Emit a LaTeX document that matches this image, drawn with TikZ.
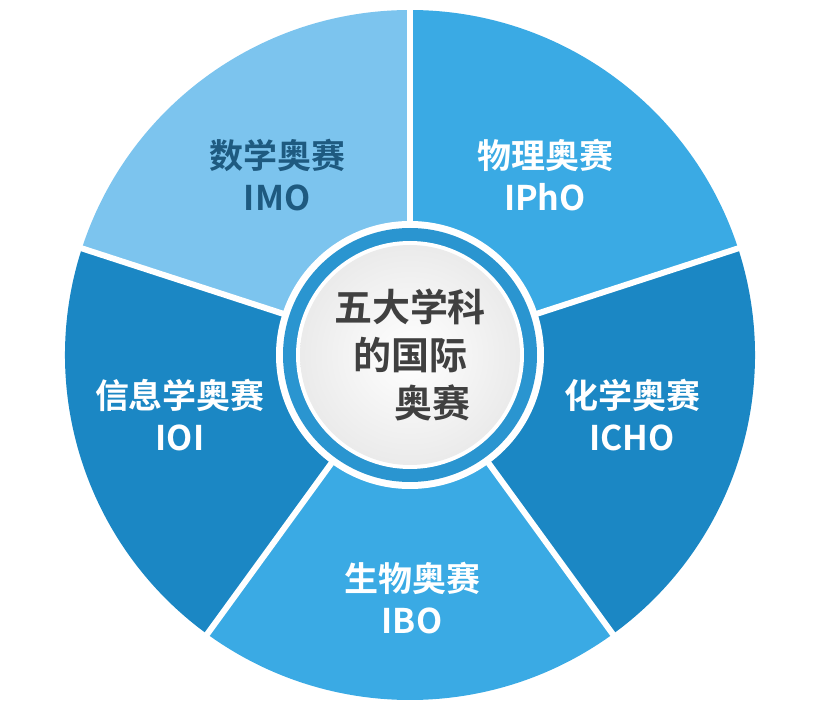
\documentclass[tikz,border=0pt]{standalone}
\usepackage{fontspec}
\newfontfamily\cjk{Noto Sans CJK SC}[BoldFont={* Bold}]
\usetikzlibrary{positioning}
\definecolor{pale}{HTML}{7CC4EE}
\definecolor{mid}{HTML}{3AAAE4}
\definecolor{deep}{HTML}{1B87C4}
\definecolor{ring}{HTML}{2A95D0}
\definecolor{ink}{HTML}{1E5A80}
\tikzset{sector/.style={draw=white,line width=3pt,line join=round},
    sectorlabel/.style={font=\cjk\bfseries\fontsize{17}{21}\selectfont,align=center,text=white},
    hublabel/.style={font=\cjk\bfseries\fontsize{19}{24}\selectfont,align=center,text=black!75}
}
\begin{document}
\begin{tikzpicture}[x=0.5pt,y=0.5pt]
\useasboundingbox (0,0) rectangle (821,703);
\coordinate (hub) at (410,348);

% five sectors
\foreach \a/\col in {90/pale,18/mid,-54/deep,-126/mid,-198/deep}
    \fill [\col] (hub) -- ++(\a:345) arc (\a:\a+72:345) -- cycle;
\foreach \a in {90,18,-54,-126,-198}
    \draw [sector] (hub) -- ++(\a:350);

% hub rings
\fill [white] (hub) circle (134);
\fill [ring] (hub) circle (127);
\fill [white] (hub) circle (114);
\shade [inner color=white,outer color=black!8] (hub) circle (110);

\node (imo) [sectorlabel,text=ink] at (277,528) {数学奥赛\\IMO};
\node (ipho) [sectorlabel] at (545,528) {物理奥赛\\IPhO};
\node (icho) [sectorlabel] at (632,288) {化学奥赛\\ICHO};
\node (ibo) [sectorlabel] at (412,105) {生物奥赛\\IBO};
\node (ioi) [sectorlabel] at (180,288) {信息学奥赛\\IOI};
\node (hubtext) [hublabel] at (hub) {五大学科\\的国际\\\hspace{1.2em}奥赛};
\end{tikzpicture}
\end{document}
